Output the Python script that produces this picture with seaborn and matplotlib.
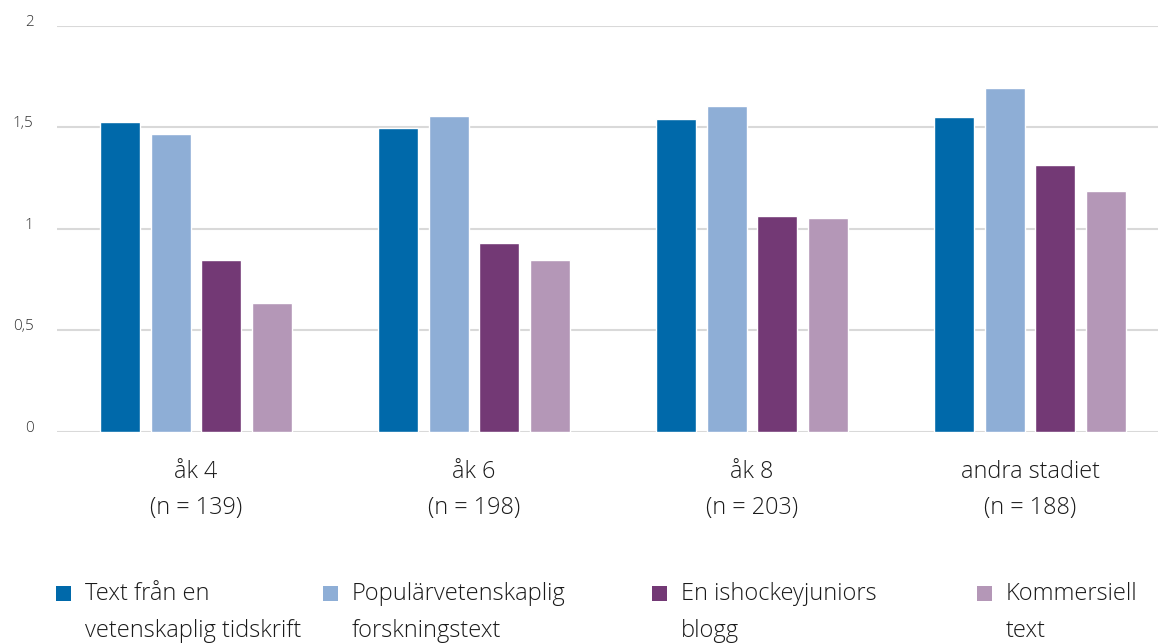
import matplotlib
matplotlib.use("Agg")
import matplotlib.pyplot as plt
from matplotlib.patches import Rectangle
import pandas as pd
import seaborn as sns

groups = ["åk 4", "åk 6", "åk 8", "andra stadiet"]
n_values = [139, 198, 203, 188]
series = ["Text från en\nvetenskaplig tidskrift",
          "Populärvetenskaplig\nforskningstext",
          "En ishockeyjuniors\nblogg",
          "Kommersiell\ntext"]
tidskrift = [1.525, 1.497, 1.541, 1.551]
popular = [1.467, 1.556, 1.605, 1.694]
blogg = [0.847, 0.931, 1.064, 1.315]
kommersiell = [0.635, 0.847, 1.054, 1.187]
colors = ["#0069AA", "#8EAED6", "#733975", "#B497B7"]

cat_labels = [f"{g}\n(n = {n})" for g, n in zip(groups, n_values)]
rows = []
for s, vals in zip(series, [tidskrift, popular, blogg, kommersiell]):
    for c, v in zip(cat_labels, vals):
        rows.append({"grupp": c, "typ": s, "varde": v})
df = pd.DataFrame(rows)

sns.set_theme(style="white")
plt.rcParams["font.family"] = ["Open Sans", "DejaVu Sans"]
plt.rcParams["font.weight"] = "light"

W, H = 1158, 643
fig = plt.figure(figsize=(W / 100, H / 100), dpi=100)
# plot area runs a little past the right edge, like the original
ax = fig.add_axes([57 / W, 1 - 432 / H, (1169 - 57) / W, (432 - 25.7) / H])

sns.barplot(data=df, x="grupp", y="varde", hue="typ", palette=colors,
            width=0.727, gap=0.2, saturation=1, ax=ax, legend=False)

ax.set_ylim(0, 2)
ax.set_xlim(-0.5, 3.5)
ax.set_yticks([0, 0.5, 1, 1.5, 2])
ax.set_yticklabels(["0", "0,5", "1", "1,5", "2"])
ax.yaxis.grid(True, color="#d9d9d9", linewidth=1.5)
ax.set_axisbelow(True)
for sp in ax.spines.values():
    sp.set_visible(False)
ax.set_xlabel("")
ax.set_ylabel("")
ax.tick_params(axis="y", length=0, pad=17, labelsize=11, labelcolor="#333333")
ax.tick_params(axis="x", length=0, pad=20, labelsize=16.8, labelcolor="#1a1a1a")
for lab in ax.get_yticklabels():
    lab.set_va("baseline")
for lab in ax.get_xticklabels():
    lab.set_linespacing(1.7)

# legend, one entry per column, square next to the first line
leg_x = [56, 323, 652, 977]
for lab, col, x in zip(series, colors, leg_x):
    fig.add_artist(Rectangle((x / W, 1 - 601 / H), 15 / W, 15 / H,
                             transform=fig.transFigure, color=col, lw=0))
    fig.text((x + 29) / W, 1 - 637 / H, lab, fontsize=17, color="#1a1a1a",
             va="baseline", ha="left", linespacing=1.7)

fig.savefig("out.png", dpi=100)
